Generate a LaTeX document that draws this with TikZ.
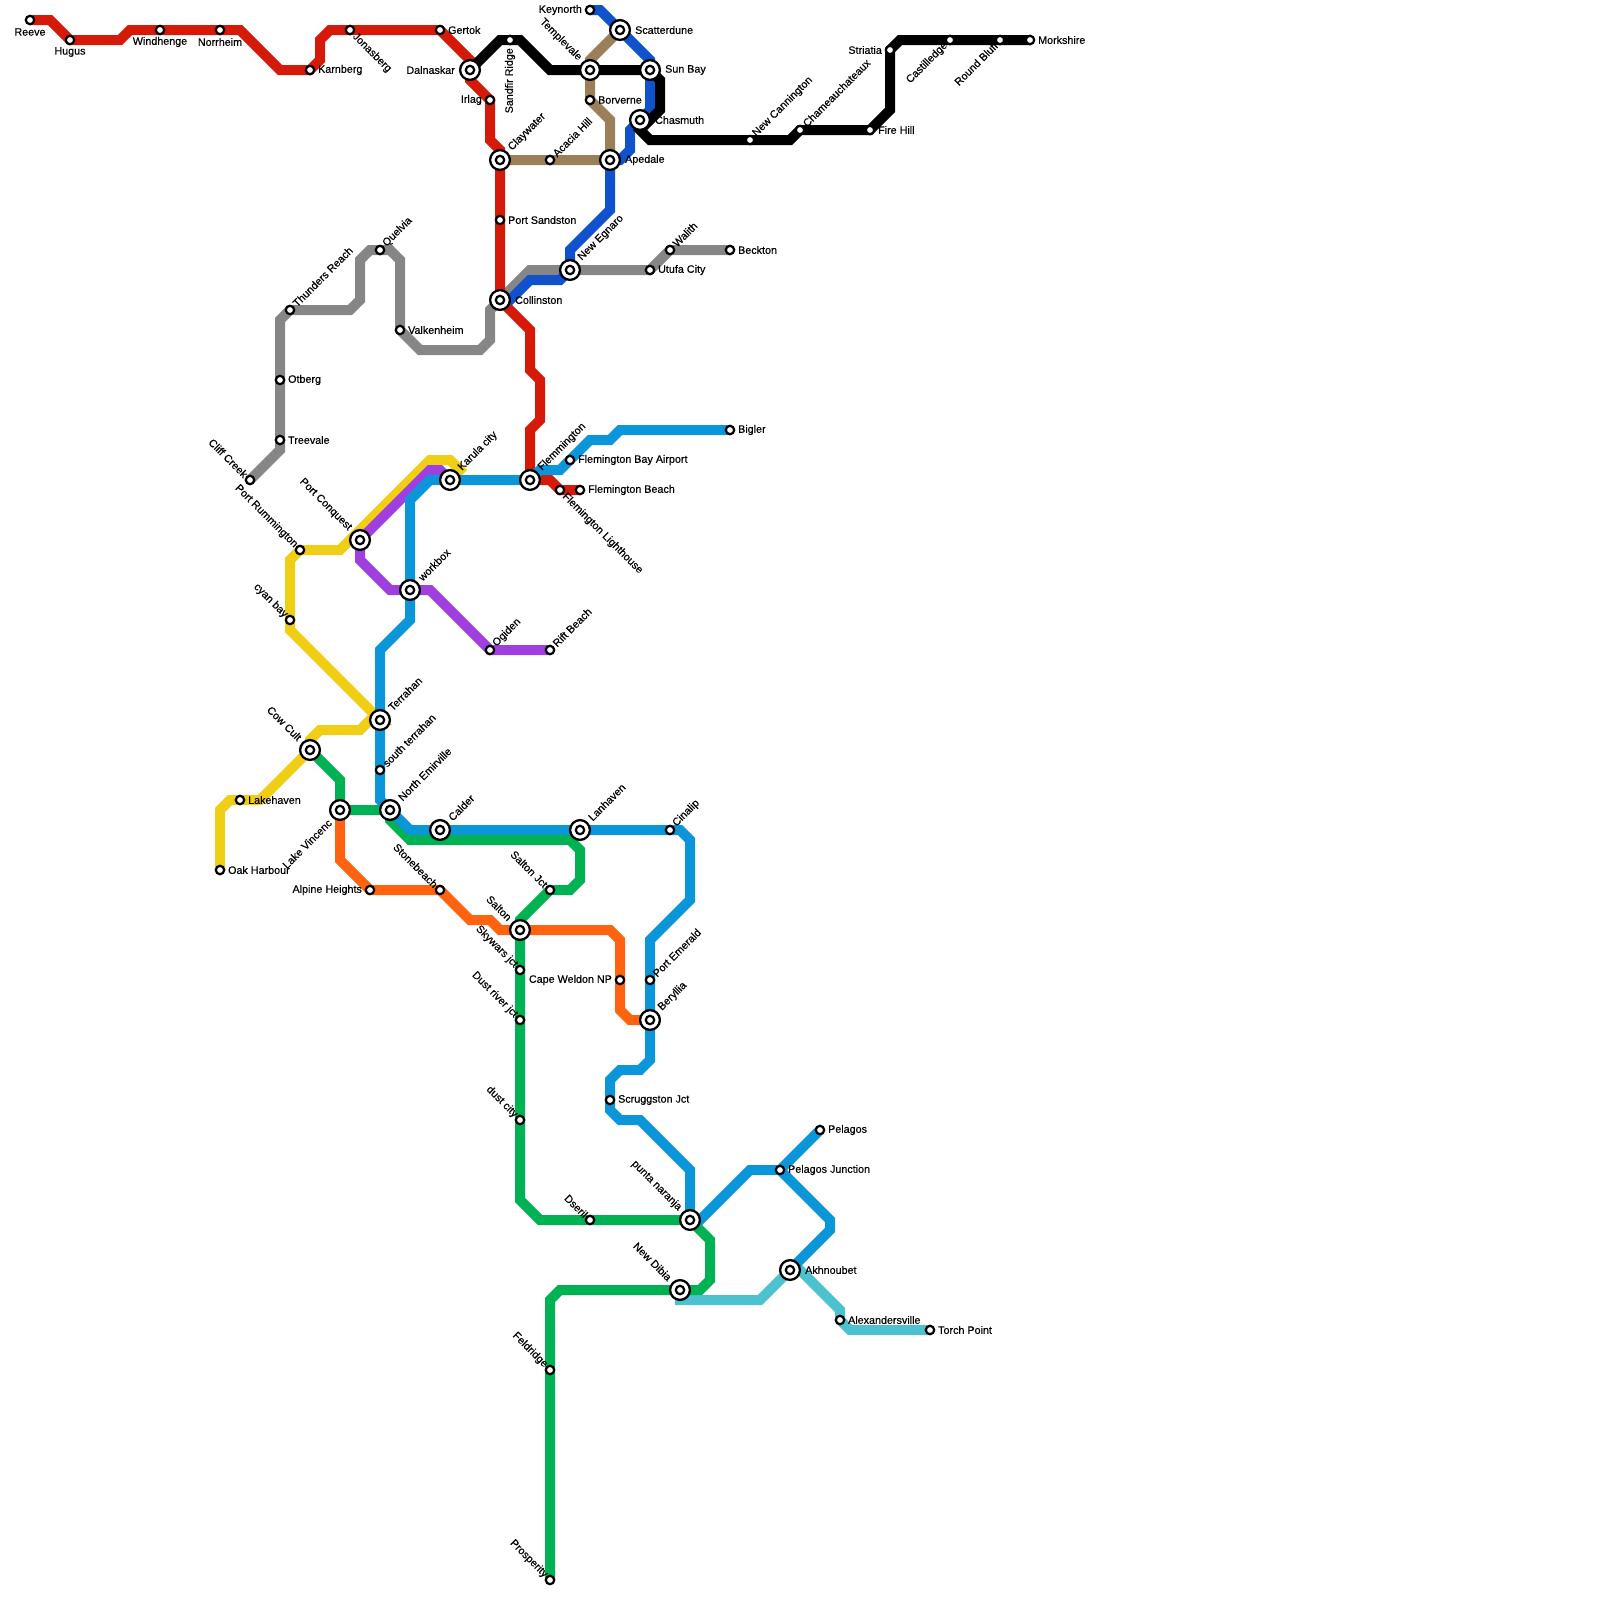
\documentclass[tikz,border=0pt]{standalone}
\usepackage{fontspec}
\setmainfont{Liberation Sans}[RawFeature={embolden=0.35}]
\usetikzlibrary{calc,backgrounds}
\definecolor{cred}{HTML}{D61A0A}
\definecolor{cblue}{HTML}{0F52CC}
\definecolor{ccyan}{HTML}{0A96D8}
\definecolor{cgray}{HTML}{868686}
\definecolor{cbrown}{HTML}{9B7F58}
\definecolor{cyellow}{HTML}{F0CE15}
\definecolor{cpurple}{HTML}{A03FE0}
\definecolor{cgreen}{HTML}{00B253}
\definecolor{corange}{HTML}{FF6310}
\definecolor{cteal}{HTML}{4CC2D0}
\tikzset{
  metro/.style={line width=.5cm,line join=miter,miter limit=10},
  stn/.style={circle,draw=black,fill=white,inner sep=0pt,minimum size=.42cm,line width=.11cm},
  hub/.style={circle,draw=black,fill=white,inner sep=0pt,minimum size=.99cm,line width=.115cm,
    path picture={\draw[black,fill=white,line width=.11cm] (path picture bounding box.center) circle (.21cm);}},
  lbl/.style={inner sep=0pt,font=\fontsize{15.3}{16}\selectfont,text=black},
  labR/.style={lbl,anchor=west},
  labL/.style={lbl,anchor=east},
  labS/.style={lbl,anchor=center},
  labNE/.style={lbl,anchor=west,rotate=45},
  labSE/.style={lbl,anchor=west,rotate=-45},
  labNW/.style={lbl,anchor=east,rotate=-45},
  labSW/.style={lbl,anchor=east,rotate=45},
  labV/.style={lbl,anchor=east,rotate=90}
}
\newcommand{\smallst}[3]{\node[stn] (#1) at (#2,#3) {};}
\newcommand{\hubst}[3]{\node[hub] (#1) at (#2,#3) {};}
\newcommand{\lab}[5]{\node[#2] (t#1) at ($(#1.center)+(#3,#4)$) {#5};}
\begin{document}
\begin{tikzpicture}[x=.05cm,y=-.05cm]
\useasboundingbox (0,0) rectangle (1600,1600);
% stations
\smallst{reeve}{30}{20}
\smallst{hugus}{70}{40}
\smallst{windhenge}{160}{30}
\smallst{norrheim}{220}{30}
\smallst{karnberg}{310}{70}
\smallst{jonasberg}{350}{30}
\smallst{gertok}{440}{30}
\hubst{dalnaskar}{470}{70}
\smallst{irlag}{490}{100}
\smallst{sandfir}{510}{40}
\hubst{claywater}{500}{160}
\smallst{portsandston}{500}{220}
\hubst{collinston}{500}{300}
\smallst{acacia}{550}{160}
\smallst{keynorth}{590}{10}
\hubst{scatterdune}{620}{30}
\hubst{templevale}{590}{70}
\hubst{sunbay}{650}{70}
\smallst{borverne}{590}{100}
\hubst{chasmuth}{640}{120}
\hubst{apedale}{610}{160}
\hubst{newegnaro}{570}{270}
\smallst{utufa}{650}{270}
\smallst{walith}{670}{250}
\smallst{beckton}{730}{250}
\smallst{newcannington}{750}{140}
\smallst{chameau}{800}{130}
\smallst{firehill}{870}{130}
\smallst{striatia}{890}{50}
\smallst{castilledge}{950}{40}
\smallst{roundbluff}{1000}{40}
\smallst{morkshire}{1030}{40}
\smallst{thunders}{290}{310}
\smallst{quelvia}{380}{250}
\smallst{valkenheim}{400}{330}
\smallst{otberg}{280}{380}
\smallst{treevale}{280}{440}
\smallst{cliffcreek}{250}{480}
\smallst{rummington}{300}{550}
\hubst{conquest}{360}{540}
\hubst{karula}{450}{480}
\hubst{flemmington}{530}{480}
\smallst{flembay}{570}{460}
\smallst{lighthouse}{560}{490}
\smallst{flembeach}{580}{490}
\smallst{bigler}{730}{430}
\hubst{workbox}{410}{590}
\smallst{cyanbay}{290}{620}
\smallst{ogiden}{490}{650}
\smallst{riftbeach}{550}{650}
\hubst{terrahan}{380}{720}
\hubst{cowcult}{310}{750}
\smallst{southterrahan}{380}{770}
\smallst{lakehaven}{240}{800}
\hubst{lakevincenc}{340}{810}
\hubst{emirville}{390}{810}
\hubst{calder}{440}{830}
\hubst{lanhaven}{580}{830}
\smallst{cinalip}{670}{830}
\smallst{oakharbour}{220}{870}
\smallst{alpine}{370}{890}
\smallst{stonebeach}{440}{890}
\smallst{saltonjct}{550}{890}
\hubst{salton}{520}{930}
\smallst{skywars}{520}{970}
\smallst{capeweldon}{620}{980}
\smallst{portemerald}{650}{980}
\smallst{dustriver}{520}{1020}
\hubst{beryllia}{650}{1020}
\smallst{scruggston}{610}{1100}
\smallst{dustcity}{520}{1120}
\smallst{pelagos}{820}{1130}
\smallst{pelagosjct}{780}{1170}
\smallst{dseril}{590}{1220}
\hubst{punta}{690}{1220}
\hubst{akhnoubet}{790}{1270}
\hubst{newdibia}{680}{1290}
\smallst{alexandersville}{840}{1320}
\smallst{torchpoint}{930}{1330}
\smallst{feldridge}{550}{1370}
\smallst{prosperity}{550}{1580}
% lines
\begin{pgfonlayer}{background}
\draw[metro,cgray] (cliffcreek.center) -- (280,450) -- (treevale.center) -- (otberg.center) -- (280,320) -- (thunders.center) -- (350,310) -- (360,300) -- (360,260) -- (370,250) -- (quelvia.center) -- (390,250) -- (400,260) -- (valkenheim.center) -- (420,350) -- (480,350) -- (490,340) -- (490,310) -- (collinston.center) -- (530,270) -- (newegnaro.center) -- (utufa.center) -- (walith.center) -- (beckton.center);
\draw[metro,cbrown] (scatterdune.center) -- (590,60) -- (templevale.center) -- (borverne.center) -- (610,120) -- (apedale.center) -- (acacia.center) -- (claywater.center);
\draw[metro,cyellow] (oakharbour.center) -- (220,810) -- (230,800) -- (lakehaven.center) -- (260,800) -- (cowcult.center) -- (310,740) -- (320,730) -- (360,730) -- (370,720) -- (terrahan.center) -- (290,630) -- (cyanbay.center) -- (290,560) -- (rummington.center) -- (340,550) -- (430,460) -- (450,460) -- (460,470) -- (karula.center);
\draw[metro,cpurple] (karula.center) -- (440,470) -- (430,470) -- (conquest.center) -- (360,560) -- (390,590) -- (workbox.center) -- (430,590) -- (ogiden.center) -- (riftbeach.center);
\draw[metro,cteal] (newdibia.center) -- (680,1300) -- (760,1300) -- (akhnoubet.center) -- (800,1270) -- (840,1310) -- (alexandersville.center) -- (850,1330) -- (torchpoint.center);
\draw[metro,cgreen] (cowcult.center) -- (340,780) -- (lakevincenc.center) -- (emirville.center) -- (390,820) -- (410,840) -- (570,840) -- (580,850) -- (580,880) -- (570,890) -- (saltonjct.center) -- (520,920) -- (salton.center) -- (skywars.center) -- (dustriver.center) -- (dustcity.center) -- (520,1200) -- (540,1220) -- (dseril.center) -- (punta.center) -- (710,1240) -- (710,1280) -- (700,1290) -- (newdibia.center) -- (560,1290) -- (550,1300) -- (feldridge.center) -- (prosperity.center);
\draw[metro,corange] (lakevincenc.center) -- (340,860) -- (alpine.center) -- (stonebeach.center) -- (470,920) -- (490,920) -- (500,930) -- (salton.center) -- (610,930) -- (620,940) -- (capeweldon.center) -- (620,1010) -- (630,1020) -- (beryllia.center);
\draw[metro,cred] (reeve.center) -- (50,20) -- (hugus.center) -- (120,40) -- (130,30) -- (windhenge.center) -- (norrheim.center) -- (240,30) -- (280,70) -- (karnberg.center) -- (320,60) -- (320,40) -- (330,30) -- (jonasberg.center) -- (gertok.center) -- (470,60) -- (dalnaskar.center) -- (470,80) -- (irlag.center) -- (490,140) -- (500,150) -- (claywater.center) -- (portsandston.center) -- (collinston.center) -- (530,330) -- (530,370) -- (540,380) -- (540,420) -- (530,430) -- (flemmington.center) -- (550,480) -- (lighthouse.center) -- (flembeach.center);
\draw[metro,ccyan] (bigler.center) -- (620,430) -- (610,440) -- (590,440) -- (560,470) -- (540,470) -- (flemmington.center) -- (karula.center) -- (430,480) -- (410,500) -- (workbox.center) -- (410,620) -- (380,650) -- (terrahan.center) -- (southterrahan.center) -- (380,800) -- (emirville.center) -- (410,830) -- (calder.center) -- (lanhaven.center) -- (cinalip.center) -- (680,830) -- (690,840) -- (690,900) -- (650,940) -- (portemerald.center) -- (beryllia.center) -- (650,1060) -- (640,1070) -- (620,1070) -- (610,1080) -- (scruggston.center) -- (610,1110) -- (620,1120) -- (640,1120) -- (690,1170) -- (punta.center) -- (700,1220) -- (750,1170) -- (pelagosjct.center) -- (830,1220) -- (830,1230) -- (akhnoubet.center);
\draw[metro,ccyan] (pelagosjct.center) -- (pelagos.center);
\draw[metro,cblue] (keynorth.center) -- (600,10) -- (scatterdune.center) -- (650,60) -- (sunbay.center) -- (650,110) -- (chasmuth.center) -- (630,130) -- (630,150) -- (620,160) -- (apedale.center) -- (610,210) -- (570,250) -- (newegnaro.center) -- (560,280) -- (530,280) -- (510,300) -- (collinston.center);
\draw[metro,black] (dalnaskar.center) -- (500,40) -- (sandfir.center) -- (520,40) -- (550,70) -- (templevale.center) -- (sunbay.center) -- (660,80) -- (660,110) -- (640,130) -- (650,140) -- (newcannington.center) -- (790,140) -- (chameau.center) -- (firehill.center) -- (890,110) -- (striatia.center) -- (900,40) -- (castilledge.center) -- (roundbluff.center) -- (morkshire.center);
\draw[metro,black] (chasmuth.center) -- (640,130);
\end{pgfonlayer}
% labels
\lab{reeve}{labS}{0}{12}{Reeve}
\lab{hugus}{labS}{0}{12}{Hugus}
\lab{windhenge}{labS}{0}{12}{Windhenge}
\lab{norrheim}{labS}{0}{12}{Norrheim}
\lab{karnberg}{labR}{8}{0}{Karnberg}
\lab{jonasberg}{labSE}{4}{5}{Jonasberg}
\lab{gertok}{labR}{8}{0}{Gertok}
\lab{dalnaskar}{labL}{-15}{0}{Dalnaskar}
\lab{irlag}{labL}{-8}{0}{Irlag}
\lab{sandfir}{labV}{0}{8}{Sandfir Ridge}
\lab{claywater}{labNE}{10}{-11}{Claywater}
\lab{portsandston}{labR}{8}{0}{Port Sandston}
\lab{collinston}{labR}{15}{0}{Collinston}
\lab{acacia}{labNE}{4.5}{-5}{Acacia Hill}
\lab{keynorth}{labL}{-8}{0}{Keynorth}
\lab{scatterdune}{labR}{15}{0}{Scatterdune}
\lab{templevale}{labNW}{-10}{-11}{Templevale}
\lab{sunbay}{labR}{15}{0}{Sun Bay}
\lab{borverne}{labR}{8}{0}{Borverne}
\lab{chasmuth}{labR}{15}{0}{Chasmuth}
\lab{apedale}{labR}{15}{0}{Apedale}
\lab{newegnaro}{labNE}{10}{-11}{New Egnaro}
\lab{utufa}{labR}{8}{0}{Utufa City}
\lab{walith}{labNE}{4.5}{-5}{Walith}
\lab{beckton}{labR}{8}{0}{Beckton}
\lab{newcannington}{labNE}{4.5}{-5}{New Cannington}
\lab{chameau}{labNE}{4.5}{-5}{Chameauchateaux}
\lab{firehill}{labR}{8}{0}{Fire Hill}
\lab{striatia}{labL}{-8}{0}{Striatia}
\lab{castilledge}{labSW}{-4}{4}{Castilledge}
\lab{roundbluff}{labSW}{-4}{4}{Round Bluff}
\lab{morkshire}{labR}{8}{0}{Morkshire}
\lab{thunders}{labNE}{4.5}{-5}{Thunders Reach}
\lab{quelvia}{labNE}{4.5}{-5}{Quelvia}
\lab{valkenheim}{labR}{8}{0}{Valkenheim}
\lab{otberg}{labR}{8}{0}{Otberg}
\lab{treevale}{labR}{8}{0}{Treevale}
\lab{cliffcreek}{labNW}{-4}{-4}{Cliff Creek}
\lab{rummington}{labNW}{-4}{-4}{Port Rummington}
\lab{conquest}{labNW}{-10}{-11}{Port Conquest}
\lab{karula}{labNE}{10}{-11}{Karula city}
\lab{flemmington}{labNE}{10}{-11}{Flemmington}
\lab{flembay}{labR}{8}{0}{Flemington Bay Airport}
\lab{lighthouse}{labSE}{4}{5}{Flemington Lighthouse}
\lab{flembeach}{labR}{8}{0}{Flemington Beach}
\lab{bigler}{labR}{8}{0}{Bigler}
\lab{workbox}{labNE}{10}{-11}{workbox}
\lab{cyanbay}{labNW}{-4}{-4}{cyan bay}
\lab{ogiden}{labNE}{4.5}{-5}{Ogiden}
\lab{riftbeach}{labNE}{4.5}{-5}{Rift Beach}
\lab{terrahan}{labNE}{10}{-11}{Terrahan}
\lab{cowcult}{labNW}{-10}{-11}{Cow Cult}
\lab{southterrahan}{labNE}{4.5}{-5}{south terrahan}
\lab{lakehaven}{labR}{8}{0}{Lakehaven}
\lab{lakevincenc}{labSW}{-10}{11}{Lake Vincenc}
\lab{emirville}{labNE}{10}{-11}{North Emirville}
\lab{calder}{labNE}{10}{-11}{Calder}
\lab{lanhaven}{labNE}{10}{-11}{Lanhaven}
\lab{cinalip}{labNE}{4.5}{-5}{Cinalip}
\lab{oakharbour}{labR}{8}{0}{Oak Harbour}
\lab{alpine}{labL}{-8}{0}{Alpine Heights}
\lab{stonebeach}{labNW}{-4}{-4}{Stonebeach}
\lab{saltonjct}{labNW}{-4}{-4}{Salton Jct}
\lab{salton}{labNW}{-10}{-11}{Salton}
\lab{skywars}{labNW}{-4}{-4}{Skywars jct}
\lab{capeweldon}{labL}{-8}{0}{Cape Weldon NP}
\lab{portemerald}{labNE}{4.5}{-5}{Port Emerald}
\lab{dustriver}{labNW}{-4}{-4}{Dust river jct}
\lab{beryllia}{labNE}{10}{-11}{Beryllia}
\lab{scruggston}{labR}{8}{0}{Scruggston Jct}
\lab{dustcity}{labNW}{-4}{-4}{dust city}
\lab{pelagos}{labR}{8}{0}{Pelagos}
\lab{pelagosjct}{labR}{8}{0}{Pelagos Junction}
\lab{dseril}{labNW}{-4}{-4}{Dseril}
\lab{punta}{labNW}{-10}{-11}{punta naranja}
\lab{akhnoubet}{labR}{15}{0}{Akhnoubet}
\lab{newdibia}{labNW}{-10}{-11}{New Dibia}
\lab{alexandersville}{labR}{8}{0}{Alexandersville}
\lab{torchpoint}{labR}{8}{0}{Torch Point}
\lab{feldridge}{labNW}{-4}{-4}{Feldridge}
\lab{prosperity}{labNW}{-4}{-4}{Prosperity}
\end{tikzpicture}
\end{document}
